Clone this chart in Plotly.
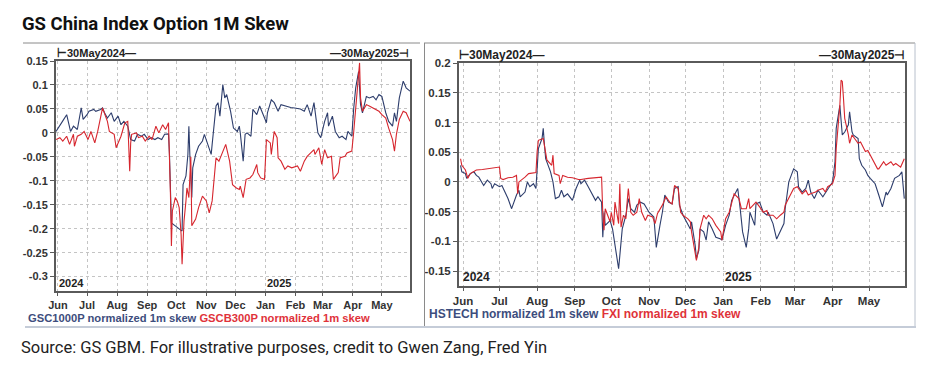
import plotly.graph_objects as go

# ---------------- data ----------------
gsc1000p_dates = [
    "2024-05-30", "2024-06-03", "2024-06-06", "2024-06-10", "2024-06-11", "2024-06-14", "2024-06-17",
    "2024-06-21", "2024-06-25", "2024-06-27", "2024-07-01", "2024-07-03", "2024-07-08", "2024-07-10",
    "2024-07-15", "2024-07-17", "2024-07-19", "2024-07-22", "2024-07-26", "2024-07-29", "2024-08-02",
    "2024-08-05", "2024-08-08", "2024-08-12", "2024-08-15", "2024-08-19", "2024-08-22", "2024-08-26",
    "2024-08-29", "2024-09-02", "2024-09-05", "2024-09-09", "2024-09-12", "2024-09-16", "2024-09-19",
    "2024-09-23", "2024-09-24", "2024-09-26", "2024-09-30", "2024-10-04", "2024-10-07", "2024-10-08",
    "2024-10-11", "2024-10-13", "2024-10-14", "2024-10-15", "2024-10-17", "2024-10-18", "2024-10-21",
    "2024-10-24", "2024-10-28", "2024-10-30", "2024-11-01", "2024-11-06", "2024-11-07", "2024-11-11",
    "2024-11-13", "2024-11-15", "2024-11-18", "2024-11-20", "2024-11-22", "2024-11-26", "2024-11-29",
    "2024-12-03", "2024-12-05", "2024-12-06", "2024-12-09", "2024-12-11", "2024-12-13", "2024-12-17",
    "2024-12-19", "2024-12-23", "2024-12-26", "2024-12-30", "2025-01-02", "2025-01-03", "2025-01-07",
    "2025-01-10", "2025-01-14", "2025-01-17", "2025-01-21", "2025-01-27", "2025-01-31", "2025-02-06",
    "2025-02-10", "2025-02-13", "2025-02-17", "2025-02-20", "2025-02-24", "2025-02-27", "2025-03-03",
    "2025-03-06", "2025-03-07", "2025-03-11", "2025-03-14", "2025-03-18", "2025-03-21", "2025-03-25",
    "2025-03-27", "2025-03-31", "2025-04-02", "2025-04-04", "2025-04-07", "2025-04-09", "2025-04-11",
    "2025-04-15", "2025-04-18", "2025-04-22", "2025-04-25", "2025-04-28", "2025-05-01", "2025-05-05",
    "2025-05-08", "2025-05-12", "2025-05-14", "2025-05-16", "2025-05-19", "2025-05-23", "2025-05-26",
    "2025-05-30",
]
gsc1000p_values = [
    0.003, 0.017, 0.025, 0.038, 0.028, 0.003, 0.014,
    0.007, 0.052, 0.028, 0.038, 0.045, 0.049, 0.045,
    0.049, 0.052, 0.042, 0.031, 0.042, 0.024, 0.035,
    0.017, 0.024, 0.014, -0.014, -0.017, -0.003, -0.007,
    -0.003, -0.014, -0.010, -0.014, -0.010, -0.014, -0.003,
    -0.002, -0.045, -0.188, -0.194, -0.200, -0.205, -0.108,
    -0.090, -0.045, 0.014, -0.045, -0.135, -0.073, -0.045,
    -0.028, -0.017, -0.003, -0.014, -0.045, -0.024, 0.056,
    0.063, 0.035, 0.101, 0.073, 0.080, 0.045, 0.010,
    0.003, 0.014, 0.000, -0.059, -0.003, 0.000, -0.007,
    0.049, 0.038, 0.056, 0.035, 0.021, 0.042, 0.069,
    0.063, 0.045, 0.059, 0.056, 0.053, 0.052, 0.050,
    0.045, 0.059, 0.035, 0.063, 0.000, -0.010, 0.024,
    0.042, 0.014, 0.035, 0.003, -0.010, -0.007, -0.014,
    0.003, -0.007, 0.052, 0.094, 0.128, 0.059, 0.042,
    0.076, 0.073, 0.076, 0.069, 0.080, 0.076, 0.042,
    0.024, 0.014, 0.042, 0.024, 0.073, 0.108, 0.094,
    0.087,
]

gscb300p_dates = [
    "2024-05-30", "2024-06-03", "2024-06-06", "2024-06-10", "2024-06-13", "2024-06-17", "2024-06-18",
    "2024-06-21", "2024-06-25", "2024-06-28", "2024-07-02", "2024-07-05", "2024-07-09", "2024-07-12",
    "2024-07-17", "2024-07-22", "2024-07-24", "2024-07-29", "2024-07-31", "2024-08-05", "2024-08-07",
    "2024-08-09", "2024-08-12", "2024-08-14", "2024-08-15", "2024-08-16", "2024-08-21", "2024-08-23",
    "2024-08-27", "2024-08-30", "2024-09-03", "2024-09-06", "2024-09-10", "2024-09-13", "2024-09-17",
    "2024-09-20", "2024-09-23", "2024-09-24", "2024-09-25", "2024-09-26", "2024-09-27", "2024-09-30",
    "2024-10-02", "2024-10-04", "2024-10-06", "2024-10-07", "2024-10-09", "2024-10-11", "2024-10-12",
    "2024-10-14", "2024-10-16", "2024-10-17", "2024-10-21", "2024-10-24", "2024-10-28", "2024-11-01",
    "2024-11-04", "2024-11-07", "2024-11-11", "2024-11-14", "2024-11-18", "2024-11-21", "2024-11-25",
    "2024-11-28", "2024-12-02", "2024-12-05", "2024-12-06", "2024-12-09", "2024-12-12", "2024-12-16",
    "2024-12-19", "2024-12-23", "2024-12-24", "2024-12-27", "2024-12-31", "2025-01-02", "2025-01-06",
    "2025-01-07", "2025-01-10", "2025-01-13", "2025-01-14", "2025-01-17", "2025-01-21", "2025-01-24",
    "2025-01-28", "2025-02-03", "2025-02-06", "2025-02-10", "2025-02-13", "2025-02-17", "2025-02-20",
    "2025-02-21", "2025-02-25", "2025-02-28", "2025-03-03", "2025-03-06", "2025-03-10", "2025-03-12",
    "2025-03-17", "2025-03-19", "2025-03-24", "2025-03-26", "2025-03-31", "2025-04-02", "2025-04-04",
    "2025-04-07", "2025-04-08", "2025-04-09", "2025-04-11", "2025-04-15", "2025-04-18", "2025-04-22",
    "2025-04-25", "2025-04-28", "2025-05-01", "2025-05-05", "2025-05-08", "2025-05-12", "2025-05-14",
    "2025-05-16", "2025-05-19", "2025-05-23", "2025-05-26", "2025-05-30",
]
gscb300p_values = [
    -0.014, -0.010, -0.017, -0.007, -0.024, -0.003, -0.028,
    -0.007, -0.003, 0.003, -0.014, 0.003, -0.021, 0.003,
    0.052, 0.024, 0.003, -0.003, -0.031, -0.007, 0.007,
    0.021, 0.024, -0.080, -0.021, -0.003, 0.000, -0.010,
    -0.007, -0.017, -0.007, -0.014, 0.014, 0.000, 0.017,
    0.007, 0.021, -0.045, -0.128, -0.236, -0.163, -0.135,
    -0.142, -0.156, -0.212, -0.274, -0.184, -0.142, -0.115,
    -0.135, -0.050, -0.194, -0.180, -0.156, -0.132, -0.142,
    -0.167, -0.142, -0.052, -0.059, -0.038, -0.024, -0.059,
    -0.108, -0.115, -0.118, -0.111, -0.135, -0.097, -0.094,
    -0.087, -0.066, -0.083, -0.094, -0.097, -0.014, -0.021,
    -0.045, 0.003, -0.010, -0.052, -0.059, -0.076, -0.069,
    -0.073, -0.069, -0.080, -0.059, -0.049, -0.042, -0.035,
    -0.045, -0.031, -0.066, -0.035, -0.052, -0.049, -0.097,
    -0.083, -0.052, -0.049, -0.042, -0.038, 0.003, 0.059,
    0.122, 0.146, 0.073, 0.045, 0.059, 0.056, 0.052,
    0.049, 0.045, 0.038, 0.031, 0.010, -0.014, -0.038,
    -0.003, 0.028, 0.045, 0.042, 0.024,
]

hstech_dates = [
    "2024-05-30", "2024-05-31", "2024-06-03", "2024-06-04", "2024-06-07", "2024-06-10", "2024-06-12",
    "2024-06-14", "2024-06-18", "2024-06-21", "2024-06-24", "2024-06-25", "2024-06-27", "2024-07-01",
    "2024-07-03", "2024-07-05", "2024-07-08", "2024-07-11", "2024-07-12", "2024-07-15", "2024-07-17",
    "2024-07-18", "2024-07-22", "2024-07-24", "2024-07-26", "2024-07-29", "2024-07-31", "2024-08-01",
    "2024-08-02", "2024-08-05", "2024-08-06", "2024-08-07", "2024-08-08", "2024-08-12", "2024-08-14",
    "2024-08-16", "2024-08-19", "2024-08-21", "2024-08-23", "2024-08-26", "2024-08-29", "2024-08-30",
    "2024-09-02", "2024-09-05", "2024-09-06", "2024-09-09", "2024-09-12", "2024-09-16", "2024-09-18",
    "2024-09-20", "2024-09-23", "2024-09-24", "2024-09-25", "2024-09-26", "2024-09-30", "2024-10-02",
    "2024-10-04", "2024-10-06", "2024-10-07", "2024-10-08", "2024-10-10", "2024-10-13", "2024-10-15",
    "2024-10-17", "2024-10-20", "2024-10-22", "2024-10-25", "2024-10-28", "2024-10-30", "2024-11-01",
    "2024-11-05", "2024-11-07", "2024-11-10", "2024-11-12", "2024-11-14", "2024-11-17", "2024-11-20",
    "2024-11-22", "2024-11-25", "2024-11-26", "2024-11-29", "2024-12-03", "2024-12-05", "2024-12-06",
    "2024-12-09", "2024-12-10", "2024-12-12", "2024-12-13", "2024-12-16", "2024-12-18", "2024-12-20",
    "2024-12-23", "2024-12-26", "2024-12-30", "2024-12-31", "2025-01-03", "2025-01-06", "2025-01-08",
    "2025-01-10", "2025-01-13", "2025-01-15", "2025-01-17", "2025-01-20", "2025-01-22", "2025-01-23",
    "2025-01-27", "2025-01-28", "2025-01-31", "2025-02-03", "2025-02-06", "2025-02-07", "2025-02-11",
    "2025-02-14", "2025-02-17", "2025-02-20", "2025-02-21", "2025-02-24", "2025-02-26", "2025-02-28",
    "2025-03-03", "2025-03-04", "2025-03-07", "2025-03-10", "2025-03-12", "2025-03-14", "2025-03-17",
    "2025-03-20", "2025-03-24", "2025-03-25", "2025-03-28", "2025-03-31", "2025-04-01", "2025-04-03",
    "2025-04-04", "2025-04-07", "2025-04-08", "2025-04-09", "2025-04-11", "2025-04-14", "2025-04-15",
    "2025-04-17", "2025-04-18", "2025-04-22", "2025-04-23", "2025-04-25", "2025-04-28", "2025-04-30",
    "2025-05-02", "2025-05-06", "2025-05-09", "2025-05-12", "2025-05-13", "2025-05-15", "2025-05-16",
    "2025-05-19", "2025-05-22", "2025-05-26", "2025-05-28", "2025-05-30",
]
hstech_values = [
    0.028, 0.017, 0.014, 0.006, 0.014, 0.017, 0.011,
    0.008, -0.006, 0.003, -0.003, -0.011, -0.003, -0.008,
    -0.006, -0.014, -0.028, -0.045, -0.039, -0.022, -0.014,
    -0.025, -0.017, 0.000, -0.008, -0.003, -0.011, 0.034,
    0.056, 0.073, 0.090, 0.062, 0.039, 0.017, 0.000,
    -0.028, -0.025, -0.014, -0.025, -0.020, -0.028, -0.031,
    -0.011, 0.003, -0.003, 0.003, -0.008, -0.022, -0.031,
    -0.025, -0.034, -0.093, -0.051, -0.073, -0.065, -0.079,
    -0.107, -0.129, -0.146, -0.124, -0.079, -0.056, -0.028,
    -0.045, -0.051, -0.039, -0.034, -0.037, -0.045, -0.051,
    -0.059, -0.110, -0.073, -0.051, -0.022, -0.034, -0.037,
    -0.011, -0.008, -0.039, -0.056, -0.073, -0.079, -0.067,
    -0.107, -0.129, -0.115, -0.079, -0.084, -0.098, -0.067,
    -0.079, -0.093, -0.096, -0.098, -0.073, -0.056, -0.031,
    -0.022, -0.011, -0.045, -0.084, -0.110, -0.079, -0.051,
    -0.073, -0.037, -0.034, -0.051, -0.056, -0.051, -0.070,
    -0.096, -0.084, -0.070, -0.045, 0.000, 0.011, 0.022,
    0.017, -0.008, -0.017, -0.011, 0.003, -0.017, -0.028,
    -0.014, -0.025, -0.022, -0.011, -0.003, 0.000, 0.034,
    0.090, 0.129, 0.107, 0.079, 0.084, 0.096, 0.118,
    0.084, 0.079, 0.073, 0.039, 0.028, 0.020, 0.011,
    0.006, -0.003, -0.022, -0.042, -0.034, -0.017, -0.022,
    -0.011, 0.006, 0.011, 0.017, -0.028,
]

fxi_dates = [
    "2024-05-30", "2024-05-31", "2024-06-03", "2024-06-05", "2024-06-07", "2024-06-10", "2024-06-12",
    "2024-06-17", "2024-06-21", "2024-06-27", "2024-07-01", "2024-07-02", "2024-07-04", "2024-07-08",
    "2024-07-12", "2024-07-15", "2024-07-16", "2024-07-17", "2024-07-19", "2024-07-22", "2024-07-25",
    "2024-07-29", "2024-07-31", "2024-08-01", "2024-08-02", "2024-08-06", "2024-08-07", "2024-08-08",
    "2024-08-09", "2024-08-13", "2024-08-14", "2024-08-15", "2024-08-19", "2024-08-20", "2024-08-22",
    "2024-08-26", "2024-08-30", "2024-09-04", "2024-09-06", "2024-09-12", "2024-09-18", "2024-09-23",
    "2024-09-24", "2024-09-25", "2024-09-26", "2024-09-30", "2024-10-01", "2024-10-03", "2024-10-04",
    "2024-10-07", "2024-10-08", "2024-10-09", "2024-10-11", "2024-10-13", "2024-10-14", "2024-10-15",
    "2024-10-17", "2024-10-19", "2024-10-22", "2024-10-24", "2024-10-26", "2024-10-29", "2024-10-31",
    "2024-11-04", "2024-11-06", "2024-11-08", "2024-11-12", "2024-11-15", "2024-11-18", "2024-11-20",
    "2024-11-22", "2024-11-25", "2024-11-27", "2024-11-29", "2024-12-03", "2024-12-05", "2024-12-06",
    "2024-12-09", "2024-12-10", "2024-12-12", "2024-12-13", "2024-12-16", "2024-12-18", "2024-12-20",
    "2024-12-23", "2024-12-26", "2024-12-30", "2024-12-31", "2025-01-03", "2025-01-06", "2025-01-08",
    "2025-01-10", "2025-01-14", "2025-01-16", "2025-01-20", "2025-01-22", "2025-01-23", "2025-01-27",
    "2025-01-28", "2025-01-31", "2025-02-03", "2025-02-06", "2025-02-07", "2025-02-11", "2025-02-14",
    "2025-02-17", "2025-02-20", "2025-02-21", "2025-02-25", "2025-02-28", "2025-03-03", "2025-03-05",
    "2025-03-07", "2025-03-10", "2025-03-12", "2025-03-14", "2025-03-18", "2025-03-20", "2025-03-24",
    "2025-03-26", "2025-03-28", "2025-04-01", "2025-04-03", "2025-04-04", "2025-04-07", "2025-04-08",
    "2025-04-09", "2025-04-10", "2025-04-11", "2025-04-14", "2025-04-15", "2025-04-17", "2025-04-21",
    "2025-04-22", "2025-04-24", "2025-04-28", "2025-04-30", "2025-05-02", "2025-05-05", "2025-05-08",
    "2025-05-09", "2025-05-13", "2025-05-15", "2025-05-19", "2025-05-21", "2025-05-23", "2025-05-27",
    "2025-05-30",
]
fxi_values = [
    0.039, 0.028, 0.020, 0.006, 0.014, 0.017, 0.020,
    0.021, 0.022, 0.024, 0.025, 0.006, 0.004, 0.007,
    0.008, 0.011, -0.020, 0.000, 0.003, 0.008, 0.014,
    0.016, 0.016, 0.051, 0.070, 0.073, 0.062, 0.045,
    0.037, 0.028, 0.045, 0.014, 0.011, -0.003, 0.011,
    0.008, 0.007, 0.004, 0.004, 0.006, 0.007, 0.008,
    -0.053, -0.081, -0.045, -0.067, -0.051, -0.073, -0.034,
    -0.070, -0.003, -0.076, -0.056, -0.062, -0.034, -0.011,
    -0.051, -0.056, -0.051, -0.028, -0.051, -0.065, -0.056,
    -0.059, -0.070, -0.053, -0.039, -0.025, -0.034, -0.037,
    -0.006, -0.011, -0.051, -0.056, -0.062, -0.067, -0.084,
    -0.118, -0.132, -0.110, -0.079, -0.056, -0.062, -0.056,
    -0.062, -0.073, -0.084, -0.098, -0.062, -0.051, -0.034,
    -0.020, -0.028, -0.045, -0.045, -0.028, -0.045, -0.037,
    -0.034, -0.042, -0.051, -0.048, -0.056, -0.056, -0.062,
    -0.056, -0.051, -0.039, -0.022, -0.011, -0.008, -0.014,
    -0.020, -0.014, -0.022, -0.020, -0.017, -0.014, -0.011,
    -0.017, -0.008, -0.003, 0.011, 0.056, 0.129, 0.171,
    0.169, 0.140, 0.107, 0.079, 0.065, 0.079, 0.067,
    0.065, 0.067, 0.051, 0.053, 0.045, 0.034, 0.022,
    0.022, 0.034, 0.028, 0.034, 0.028, 0.031, 0.025,
    0.039,
]

left_y_ticks = [0.15, 0.1, 0.05, 0, -0.05, -0.1, -0.15, -0.2, -0.25, -0.3]
left_y_labels = ["0.15", "0.1", "0.05", "0", "-0.05", "-0.1", "-0.15", "-0.2", "-0.25", "-0.3"]
right_y_ticks = [0.2, 0.15, 0.1, 0.05, 0, -0.05, -0.1, -0.15]
right_y_labels = ["0.2", "0.15", "0.1", "0.05", "0", "-0.05", "-0.1", "-0.15"]
month_ticks = ["2024-06-01", "2024-07-01", "2024-08-01", "2024-09-01", "2024-10-01", "2024-11-01",
               "2024-12-01", "2025-01-01", "2025-02-01", "2025-03-01", "2025-04-01", "2025-05-01"]
month_labels = ["Jun", "Jul", "Aug", "Sep", "Oct", "Nov", "Dec", "Jan", "Feb", "Mar", "Apr", "May"]

# ---------------- styling ----------------
W, H = 936, 367
BLUE = "#2d3d6c"
RED = "#d6262e"
BLUE_TXT = "#3d4d7d"
RED_TXT = "#e0323a"
GRID = "#c4c4c4"
FRAME = "#5a5a5a"
ARIAL = "Liberation Sans, Arial, sans-serif"


def tfont(size):
    return dict(family=ARIAL, size=size, color="#333333", weight="bold")


def px(x):
    return x / W


def py(y):
    return 1 - y / H


fig = go.Figure()
fig.add_trace(go.Scatter(x=gsc1000p_dates, y=gsc1000p_values, mode="lines",
                         line=dict(color=BLUE, width=1.1), xaxis="x", yaxis="y", showlegend=False))
fig.add_trace(go.Scatter(x=gscb300p_dates, y=gscb300p_values, mode="lines",
                         line=dict(color=RED, width=1.1), xaxis="x", yaxis="y", showlegend=False))
fig.add_trace(go.Scatter(x=hstech_dates, y=hstech_values, mode="lines",
                         line=dict(color=BLUE, width=1.1), xaxis="x2", yaxis="y2", showlegend=False))
fig.add_trace(go.Scatter(x=fxi_dates, y=fxi_values, mode="lines",
                         line=dict(color=RED, width=1.1), xaxis="x2", yaxis="y2", showlegend=False))


def xaxis_style(size):
    return dict(type="date", tickvals=month_ticks, ticktext=month_labels, ticks="outside", ticklen=3,
                tickcolor=FRAME, tickwidth=1, showgrid=True, gridcolor=GRID, griddash="3px,3px",
                gridwidth=1, showline=True, linecolor=FRAME, linewidth=2, mirror=True,
                tickfont=tfont(size), zeroline=False, fixedrange=True, automargin=False)


def yaxis_style(size):
    return dict(ticks="outside", ticklen=4, tickcolor=FRAME, tickwidth=1, showgrid=True,
                gridcolor=GRID, griddash="3px,3px", gridwidth=1, showline=True, linecolor=FRAME,
                linewidth=2, mirror=True, tickfont=tfont(size), zeroline=False, fixedrange=True,
                automargin=False)


fig.update_layout(
    width=W, height=H, paper_bgcolor="white", plot_bgcolor="white",
    margin=dict(l=0, r=0, t=0, b=0, pad=0, autoexpand=False), showlegend=False,
    xaxis=dict(xaxis_style(11), domain=[px(56), px(410)], range=["2024-05-30", "2025-05-30"], anchor="y"),
    yaxis=dict(yaxis_style(11), domain=[py(291), py(61)], range=[-0.33, 0.15],
               tickvals=left_y_ticks, ticktext=left_y_labels, anchor="x"),
    xaxis2=dict(xaxis_style(11.5), domain=[px(459), px(905)],
                range=["2024-05-28 17:00", "2025-05-30 14:00"], anchor="y2"),
    yaxis2=dict(yaxis_style(11.5), domain=[py(286), py(63)], range=[-0.175, 0.2],
                tickvals=right_y_ticks, ticktext=right_y_labels, anchor="x2"),
)


def bold(size):
    return dict(family=ARIAL, size=size, color="#222222", weight="bold")


ann = []
# date-range markers above the panels
ann.append(dict(text="⊢30May2024—", x=px(55), y=py(53), xref="paper", yref="paper",
                xanchor="left", yanchor="middle", showarrow=False, font=bold(11)))
ann.append(dict(text="—30May2025⊣", x=px(411), y=py(53), xref="paper", yref="paper",
                xanchor="right", yanchor="middle", showarrow=False, font=bold(11)))
ann.append(dict(text="⊢30May2024—", x=px(457), y=py(55), xref="paper", yref="paper",
                xanchor="left", yanchor="middle", showarrow=False, font=bold(12)))
ann.append(dict(text="—30May2025⊣", x=px(906), y=py(55), xref="paper", yref="paper",
                xanchor="right", yanchor="middle", showarrow=False, font=bold(12)))
# year labels inside plots
for xr, yr, x0, label, size in [("x", "y domain", "2024-05-31", "2024", 11),
                                 ("x", "y domain", "2025-01-01", "2025", 11),
                                 ("x2", "y2 domain", "2024-05-30", "2024", 12),
                                 ("x2", "y2 domain", "2025-01-01", "2025", 12)]:
    ann.append(dict(text=label, x=x0, y=0, xref=xr, yref=yr, xanchor="left", yanchor="bottom",
                    showarrow=False, font=bold(size)))
# legends
ann.append(dict(text=f"<span style='color:{BLUE_TXT}'>GSC1000P normalized 1m skew</span> "
                     f"<span style='color:{RED_TXT}'>GSCB300P normalized 1m skew</span>",
                x=px(26), y=py(318), xref="paper", yref="paper", xanchor="left", yanchor="middle",
                showarrow=False, font=dict(family=ARIAL, size=11.2, weight="bold")))
ann.append(dict(text=f"<span style='color:{BLUE_TXT}'>HSTECH normalized 1m skew</span> "
                     f"<span style='color:{RED_TXT}'>FXI normalized 1m skew</span>",
                x=px(427), y=py(314), xref="paper", yref="paper", xanchor="left", yanchor="middle",
                showarrow=False, font=dict(family=ARIAL, size=12, weight="bold")))
# title and source
ann.append(dict(text="GS China Index Option 1M Skew", x=px(20), y=py(24), xref="paper", yref="paper",
                xanchor="left", yanchor="middle", showarrow=False,
                font=dict(family="Roboto, Noto Sans, sans-serif", size=18.5, color="#111111", weight="bold")))
ann.append(dict(text="Source: GS GBM. For illustrative purposes, credit to Gwen Zang, Fred Yin",
                x=px(19), y=py(347), xref="paper", yref="paper", xanchor="left", yanchor="middle",
                showarrow=False, font=dict(family="Roboto, Noto Sans, sans-serif", size=16.5, color="#222222")))
fig.update_layout(annotations=ann)

shapes = [
    dict(type="line", xref="paper", yref="paper", x0=px(23), x1=px(420), y0=py(43), y1=py(43),
         line=dict(color="#8a8a8a", width=1)),
    dict(type="line", xref="paper", yref="paper", x0=px(424), x1=px(915), y0=py(43), y1=py(43),
         line=dict(color="#8a8a8a", width=1)),
    dict(type="line", xref="paper", yref="paper", x0=px(424.5), x1=px(424.5), y0=py(43), y1=py(327),
         line=dict(color="#8a8a8a", width=1)),
    dict(type="line", xref="paper", yref="paper", x0=px(915), x1=px(915), y0=py(43), y1=py(327),
         line=dict(color="#b8c0cc", width=1)),
    dict(type="line", xref="paper", yref="paper", x0=px(25), x1=px(916), y0=py(327), y1=py(327),
         line=dict(color="#c5ccd8", width=2)),
]
fig.update_layout(shapes=shapes)

fig.write_html("out.html", config={"displayModeBar": False},
               post_script="document.body.style.margin='0';")
